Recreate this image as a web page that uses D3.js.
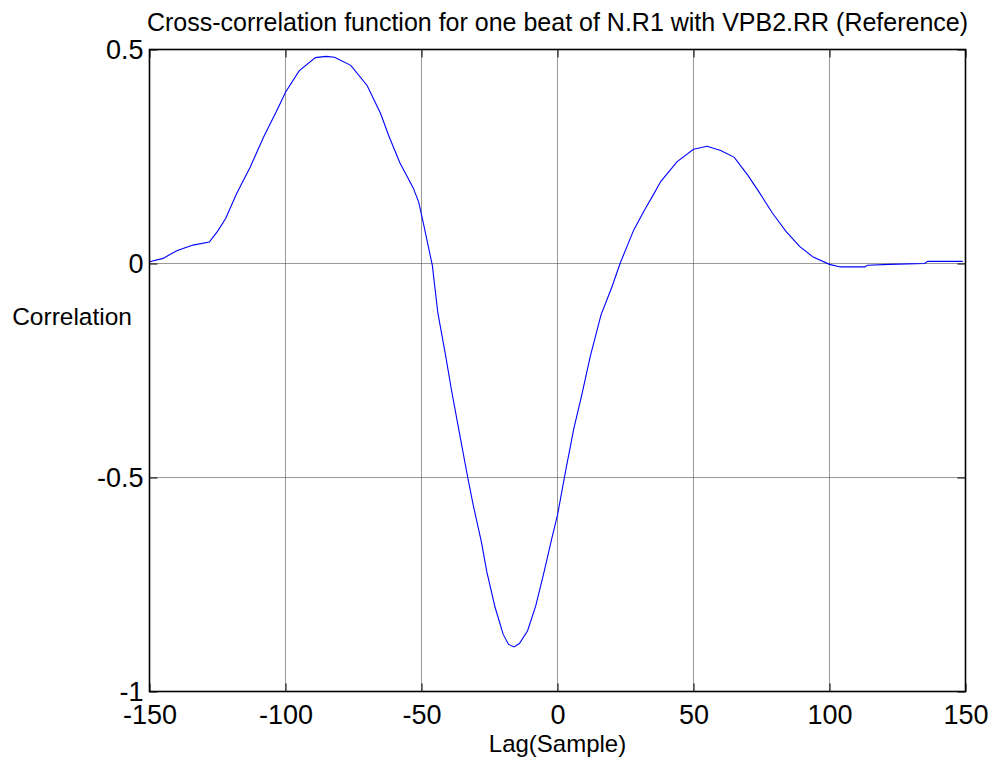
<!DOCTYPE html>
<html>
<head>
<meta charset="utf-8">
<script src="https://cdn.jsdelivr.net/npm/d3@7"></script>
<style>
  body { margin: 0; background: #fff; }
  text { font-family: "Liberation Sans", Arial, sans-serif; fill: #000; }
</style>
</head>
<body>
<div id="wrapper"></div>
<script>
// lag (samples)
const lags = [-150,-145,-140,-134,-128,-125,-122,-118,-113,-108,-103,-100,-95,-89,-85,-82,-76,-70,-65,-62,-58,-53,-51,
  -49,-46,-44,-41,-39,-36,-33,-31,-28,-26,-23,-20,-18,-16,-14,-11,-8,-5,-2,0,3,6,9,12,16,20,23,28,32,35,38,44,50,55,
  60,65,70,74,79,84,89,94,100,104,113,114,122,135,136,149]
// correlation at each lag
const correlation = [0.004,0.012,0.030,0.043,0.050,0.075,0.105,0.163,0.225,0.296,0.360,0.400,0.450,0.481,0.484,0.482,0.463,0.416,0.350,0.298,0.236,0.176,0.143,
  0.085,-0.005,-0.115,-0.220,-0.295,-0.398,-0.500,-0.564,-0.650,-0.720,-0.802,-0.866,-0.890,-0.896,-0.888,-0.858,-0.800,-0.722,-0.640,-0.588,-0.484,-0.386,-0.305,-0.218,-0.120,-0.055,0.000,0.078,0.125,0.158,0.192,0.238,0.267,0.274,
  0.264,0.248,0.206,0.168,0.118,0.075,0.040,0.015,-0.002,-0.008,-0.008,-0.004,-0.002,0.000,0.005,0.005]

const xTicks = [-150,-100,-50,0,50,100,150]
const yTicks = [-1,-0.5,0,0.5]

const titleText = "Cross-correlation function for one beat of N.R1 with VPB2.RR (Reference)"
const xLabelText = "Lag(Sample)"
const yLabelText = "Correlation"

function drawChart() {
  const dataset = lags.map((d, i) => ({ lag: d, value: correlation[i] }))

  let dimensions = {
    width: 998,
    height: 764,
    margin: {
      top: 49.5,
      right: 32.5,
      bottom: 72.5,
      left: 149.5,
    },
  }
  dimensions.boundedWidth = dimensions.width
    - dimensions.margin.left
    - dimensions.margin.right
  dimensions.boundedHeight = dimensions.height
    - dimensions.margin.top
    - dimensions.margin.bottom

  const xScale = d3.scaleLinear()
      .domain([-150, 150])
      .range([0, dimensions.boundedWidth])

  const yScale = d3.scaleLinear()
      .domain([-1, 0.5])
      .range([dimensions.boundedHeight, 0])

  const lineGenerator = d3.line()
      .x(d => xScale(d.lag))
      .y(d => yScale(d.value))

  const wrapper = d3.select("#wrapper")
    .append("svg")
      .attr("width", dimensions.width)
      .attr("height", dimensions.height)

  wrapper.append("rect")
      .attr("width", dimensions.width)
      .attr("height", dimensions.height)
      .attr("fill", "#fff")

  const bounds = wrapper.append("g")
      .attr("transform", `translate(${dimensions.margin.left}, ${dimensions.margin.top})`)

  // dotted grid
  const grid = bounds.append("g")
      .attr("stroke", "#333")
      .attr("stroke-width", 1)
      .attr("stroke-dasharray", "1,1")

  grid.selectAll(".vgrid")
    .data(xTicks.slice(1, -1))
    .join("line")
      .attr("x1", d => xScale(d))
      .attr("x2", d => xScale(d))
      .attr("y1", 0)
      .attr("y2", dimensions.boundedHeight)

  grid.selectAll(".hgrid")
    .data(yTicks.slice(1, -1))
    .join("line")
      .attr("x1", 0)
      .attr("x2", dimensions.boundedWidth)
      .attr("y1", d => yScale(d))
      .attr("y2", d => yScale(d))

  // curve
  bounds.append("path")
      .attr("d", lineGenerator(dataset))
      .attr("fill", "none")
      .attr("stroke", "#0000ff")
      .attr("stroke-width", 1.1)

  // axes, ticks pointing inward, plain hyphen for negatives
  const tickLen = 8
  const plain = d => String(d)

  const xAxisGenerator = d3.axisBottom(xScale)
      .tickValues(xTicks)
      .tickSizeInner(-tickLen)
      .tickSizeOuter(0)
      .tickFormat(plain)

  const xAxis = bounds.append("g")
      .attr("transform", `translate(0, ${dimensions.boundedHeight})`)
      .call(xAxisGenerator)
  xAxis.selectAll("text")
      .attr("dy", null)
      .attr("y", 32)

  const yAxisGenerator = d3.axisLeft(yScale)
      .tickValues(yTicks)
      .tickSizeInner(-tickLen)
      .tickSizeOuter(0)
      .tickFormat(plain)

  const yAxis = bounds.append("g")
      .call(yAxisGenerator)
  yAxis.selectAll("text")
      .attr("x", -6)
      .attr("dy", "0.35em")

  const topAxis = bounds.append("g")
      .call(d3.axisTop(xScale).tickValues(xTicks).tickSizeInner(-tickLen).tickSizeOuter(0).tickFormat(""))
  const rightAxis = bounds.append("g")
      .attr("transform", `translate(${dimensions.boundedWidth}, 0)`)
      .call(d3.axisRight(yScale).tickValues(yTicks).tickSizeInner(-tickLen).tickSizeOuter(0).tickFormat(""))

  ;[xAxis, yAxis, topAxis, rightAxis].forEach(a => {
    a.select(".domain").remove()
    a.selectAll(".tick line").attr("stroke", "#000").attr("stroke-width", 1)
    a.selectAll("text")
        .style("font-family", "'Liberation Sans', Arial, sans-serif")
        .style("font-size", "27px")
        .attr("fill", "#000")
  })

  // box
  bounds.append("rect")
      .attr("width", dimensions.boundedWidth)
      .attr("height", dimensions.boundedHeight)
      .attr("fill", "none")
      .attr("stroke", "#000")
      .attr("stroke-width", 1.6)

  // texts
  wrapper.append("text")
      .attr("x", dimensions.margin.left + dimensions.boundedWidth / 2)
      .attr("y", 31)
      .attr("text-anchor", "middle")
      .style("font-size", "25px")
      .text(titleText)

  wrapper.append("text")
      .attr("x", dimensions.margin.left + dimensions.boundedWidth / 2)
      .attr("y", 752)
      .attr("text-anchor", "middle")
      .style("font-size", "24px")
      .text(xLabelText)

  wrapper.append("text")
      .attr("x", 132)
      .attr("y", 325)
      .attr("text-anchor", "end")
      .style("font-size", "24.5px")
      .text(yLabelText)
}

drawChart()
</script>
</body>
</html>
